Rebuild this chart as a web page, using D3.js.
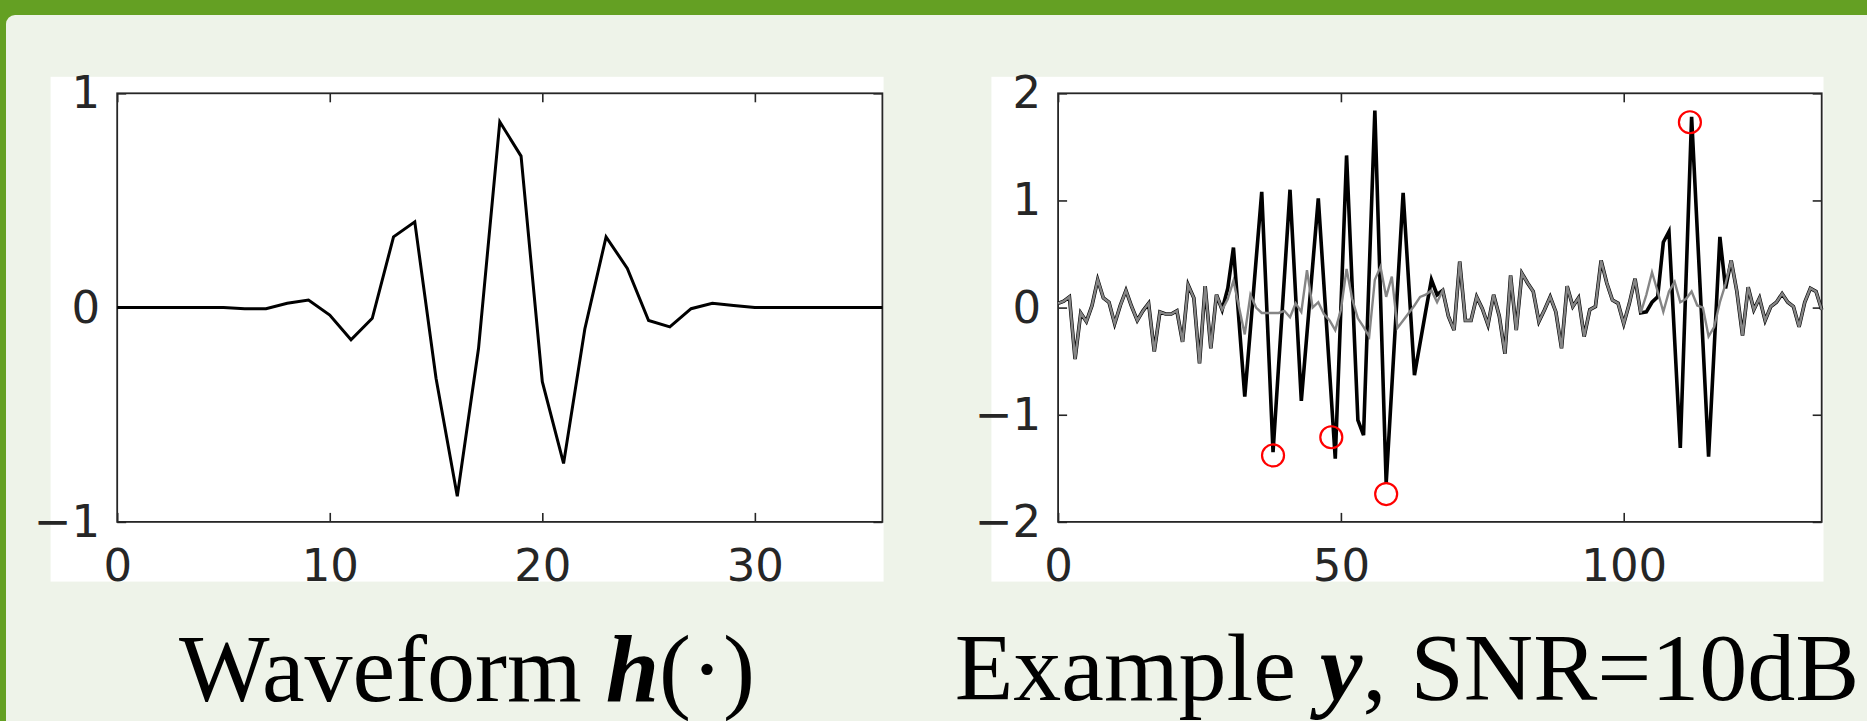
<!DOCTYPE html>
<html>
<head>
<meta charset="utf-8">
<script src="https://cdn.jsdelivr.net/npm/d3@7"></script>
<style>
body { margin: 0; overflow: hidden; background: #64a023 }
</style>
</head>
<body>
<script>
// waveform h(.), sampled at 0..36
const waveform = [0, 0, 0, 0, 0, 0, -0.005, -0.005, 0.02, 0.035, -0.035, -0.15, -0.05, 0.33, 0.40, -0.33,
    -0.88, -0.19, 0.867, 0.707, -0.346, -0.727, -0.10, 0.33, 0.183, -0.06, -0.09, -0.005, 0.02, 0.01,
    0, 0, 0, 0, 0, 0, 0]

// noise part (grey), samples 0..135
const noise = [0.04, 0.06, 0.10, -0.48, -0.05, -0.13, 0.02, 0.26, 0.09, 0.05,
    -0.15, 0.02, 0.16, 0.01, -0.12, -0.03, 0.04, -0.41, -0.04, -0.06,
    -0.06, -0.03, -0.32, 0.21, 0.09, -0.52, 0.20, -0.38, 0.12, -0.02,
    0.08, 0.25, 0.00, -0.25, 0.12, 0.00, -0.05, -0.05, -0.05, -0.05,
    -0.03, -0.09, 0.04, -0.04, 0.35, 0.00, 0.05, -0.06, -0.12, -0.21,
    -0.02, 0.36, 0.08, -0.10, -0.18, -0.27, 0.26, 0.38, 0.10, 0.29,
    -0.19, -0.12, -0.05, 0.02, 0.10, 0.12, 0.16, 0.05, 0.16, -0.08,
    -0.21, 0.43, -0.12, -0.12, 0.10, -0.01, -0.16, 0.12, -0.08, -0.43,
    0.30, -0.21, 0.32, 0.23, 0.15, -0.13, -0.02, 0.10, -0.04, -0.38,
    0.20, 0.01, 0.09, -0.27, -0.02, 0.01, 0.44, 0.23, 0.07, 0.04,
    -0.15, 0.04, 0.27, -0.05, 0.12, 0.33, 0.15, -0.04, 0.15, 0.24,
    0.05, 0.08, 0.15, 0.02, 0.00, -0.27, -0.18, 0.05, 0.22, 0.44,
    0.15, -0.26, 0.19, -0.02, 0.09, -0.12, 0.01, 0.05, 0.13, 0.05,
    0.01, -0.18, 0.05, 0.18, 0.15, -0.02]

// observed y (black), samples 0..135
const observed = [0.04, 0.06, 0.10, -0.48, -0.05, -0.13, 0.02, 0.26, 0.09, 0.05,
    -0.15, 0.02, 0.16, 0.01, -0.12, -0.03, 0.04, -0.41, -0.04, -0.06,
    -0.06, -0.03, -0.32, 0.21, 0.09, -0.52, 0.20, -0.38, 0.12, -0.02,
    0.18, 0.56, -0.14, -0.83, -0.20, 0.44, 1.08, -0.13, -1.35, -0.53,
    0.28, 1.10, 0.11, -0.87, -0.24, 0.39, 1.02, 0.21, -0.60, -1.41,
    0.00, 1.42, 0.19, -1.05, -1.19, 0.33, 1.84, 0.10, -1.64, -0.74,
    0.17, 1.07, 0.22, -0.63, -0.33, -0.03, 0.26, 0.12, 0.16, -0.08,
    -0.21, 0.43, -0.12, -0.12, 0.10, -0.01, -0.16, 0.12, -0.08, -0.43,
    0.30, -0.21, 0.32, 0.23, 0.15, -0.13, -0.02, 0.10, -0.04, -0.38,
    0.20, 0.01, 0.09, -0.27, -0.02, 0.01, 0.44, 0.23, 0.07, 0.04,
    -0.15, 0.04, 0.27, -0.05, -0.04, 0.05, 0.10, 0.61, 0.71, -0.30,
    -1.31, 0.24, 1.78, 0.72, -0.33, -1.39, -0.37, 0.66, 0.18, 0.44,
    0.15, -0.26, 0.19, -0.02, 0.09, -0.12, 0.01, 0.05, 0.13, 0.05,
    0.01, -0.18, 0.05, 0.18, 0.15, -0.02]

// detected spikes (red circles)
const spikeX = [38, 48.3, 58, 111.7]
const spikeY = [-1.38, -1.21, -1.74, 1.73]

const waveTicksX = [0, 10, 20, 30]
const waveTicksY = [-1, 0, 1]
const obsTicksX = [0, 50, 100]
const obsTicksY = [-2, -1, 0, 1, 2]

const W = 1867, H = 721
const ink = '#262626'

let svg = d3.select('body').append('svg')
    .attr('width', W)
    .attr('height', H)

// beamer block: green frame + light body
svg.append('rect').attr('width', W).attr('height', H).attr('fill', '#64a023')
svg.append('rect')
    .attr('x', 6).attr('y', 15)
    .attr('width', W + 20).attr('height', H + 20)
    .attr('rx', 9)
    .attr('fill', '#eef3e9')

function panel(o) {
    let g = svg.append('g')
    g.append('rect')
        .attr('x', o.white[0]).attr('y', o.white[1])
        .attr('width', o.white[2]).attr('height', o.white[3])
        .attr('fill', '#fff')

    let x = o.x, y = o.y
    let [x0, x1] = x.range(), [y1, y0] = y.range()
    let fmt = d3.format('d')

    let style = sel => {
        sel.select('.domain').remove()
        sel.selectAll('line').attr('stroke', ink).attr('stroke-width', 1.6)
        sel.selectAll('text')
            .attr('fill', ink)
            .style('font-family', '"DejaVu Sans", sans-serif')
            .style('font-size', '45px')
    }

    g.append('g').attr('transform', `translate(0,${y1})`)
        .call(d3.axisBottom(x).tickValues(o.ticksX).tickFormat(fmt).tickSizeInner(-9).tickSizeOuter(0).tickPadding(27))
        .call(style)
    g.append('g').attr('transform', `translate(0,${y0})`)
        .call(d3.axisTop(x).tickValues(o.ticksX).tickSizeInner(-9).tickSizeOuter(0).tickFormat(''))
        .call(style)
    g.append('g').attr('transform', `translate(${x0},0)`)
        .call(d3.axisLeft(y).tickValues(o.ticksY).tickFormat(fmt).tickSizeInner(-9).tickSizeOuter(0).tickPadding(17))
        .call(style)
    g.append('g').attr('transform', `translate(${x1},0)`)
        .call(d3.axisRight(y).tickValues(o.ticksY).tickSizeInner(-9).tickSizeOuter(0).tickFormat(''))
        .call(style)

    g.append('rect')
        .attr('x', x0).attr('y', y0)
        .attr('width', x1 - x0).attr('height', y1 - y0)
        .attr('fill', 'none')
        .attr('stroke', ink)
        .attr('stroke-width', 1.8)

    let title = g.append('text')
        .attr('x', o.title[0]).attr('y', o.title[1])
        .attr('text-anchor', 'middle')
        .style('font-family', '"Liberation Serif", "Times New Roman", serif')
        .style('font-size', '96px')
        .attr('fill', '#000')
    o.title[2].forEach(p => {
        let t = title.append('tspan').text(p.t)
        if (p.b) t.style('font-weight', 'bold').style('font-style', 'italic')
    })
    return g
}

// left: the waveform
let xh = d3.scaleLinear().domain([0, 36]).range([117.2, 882.4])
let yh = d3.scaleLinear().domain([-1, 1]).range([521.9, 93.3])
let left = panel({
    white: [50.6, 76.8, 833, 504.8],
    x: xh, y: yh,
    ticksX: waveTicksX, ticksY: waveTicksY,
    title: [467, 701, [{t: 'Waveform '}, {t: 'h', b: true}, {t: '(·)'}]]
})
left.append('path')
    .datum(waveform)
    .attr('fill', 'none')
    .attr('stroke', '#000')
    .attr('stroke-width', 3)
    .attr('stroke-linejoin', 'miter')
    .attr('d', d3.line().x((d, i) => xh(i)).y(d => yh(d)))

// right: observed signal, noise drawn over it in grey
let xy = d3.scaleLinear().domain([0, 135]).range([1058.1, 1821.7])
let yy = d3.scaleLinear().domain([-2, 2]).range([521.9, 93.3])
let right = panel({
    white: [991.4, 76.8, 832.1, 504.8],
    x: xy, y: yy,
    ticksX: obsTicksX, ticksY: obsTicksY,
    title: [1407, 700, [{t: 'Example '}, {t: 'y', b: true}, {t: ', SNR=10dB'}]]
})
let line = d3.line().x((d, i) => xy(i)).y(d => yy(d))
right.append('path')
    .datum(observed)
    .attr('fill', 'none')
    .attr('stroke', '#000')
    .attr('stroke-width', 3.6)
    .attr('d', line)
right.append('path')
    .datum(noise)
    .attr('fill', 'none')
    .attr('stroke', '#858585')
    .attr('stroke-width', 2.4)
    .attr('d', line)
right.selectAll('circle.spike')
    .data(spikeX)
    .enter().append('circle')
    .attr('class', 'spike')
    .attr('cx', d => xy(d))
    .attr('cy', (d, i) => yy(spikeY[i]))
    .attr('r', 11)
    .attr('fill', 'none')
    .attr('stroke', '#ff0000')
    .attr('stroke-width', 2.2)
</script>
</body>
</html>
